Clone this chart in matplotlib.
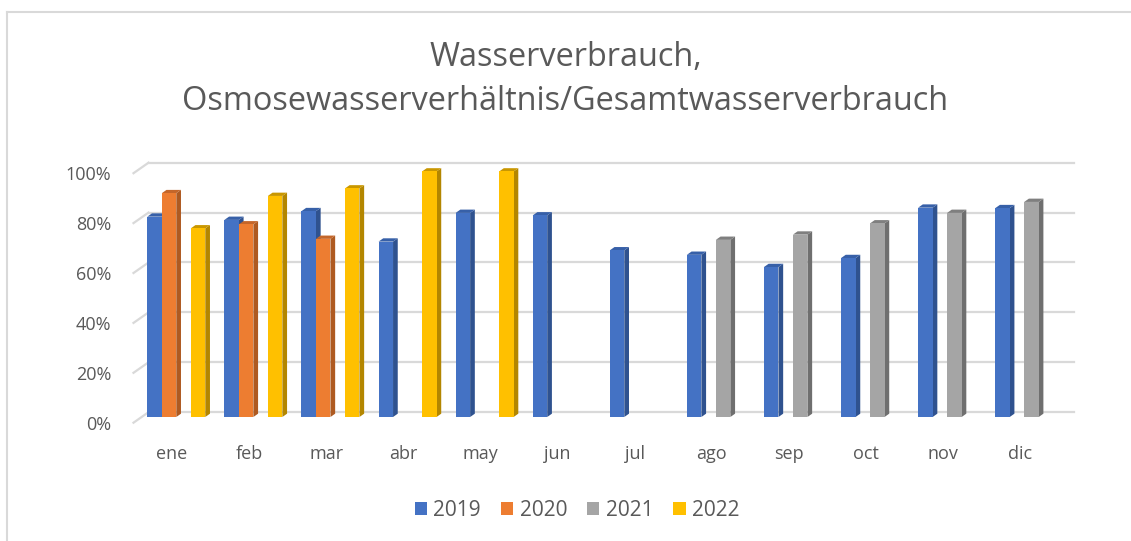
import matplotlib.pyplot as plt
from matplotlib.patches import Polygon, Rectangle
from matplotlib.lines import Line2D

plt.rcParams['font.family'] = ['Open Sans', 'DejaVu Sans']

# data (share of osmosis water, None = no bar)
months = ['ene', 'feb', 'mar', 'abr', 'may', 'jun', 'jul', 'ago', 'sep', 'oct', 'nov', 'dic']
years = ['2019', '2020', '2021', '2022']
v2019 = [0.803, 0.790, 0.825, 0.703, 0.818, 0.808, 0.668, 0.650, 0.601, 0.637, 0.839, 0.837]
v2020 = [0.897, 0.772, 0.714, None, None, None, None, None, None, None, None, None]
v2021 = [None, None, None, None, None, None, None, 0.710, 0.731, 0.776, 0.818, 0.862]
v2022 = [0.756, 0.886, 0.916, 0.984, 0.984, None, None, None, None, None, None, None]
series = [v2019, v2020, v2021, v2022]
front = ['#4472C4', '#ED7D31', '#A5A5A5', '#FFC000']
side = ['#2F528F', '#AE5A21', '#6F6F6F', '#B38600']
top = ['#3760A8', '#C4662A', '#7F7F7F', '#C99700']

W, H = 1131, 541
fig = plt.figure(figsize=(W / 100, H / 100), dpi=100)
ax = fig.add_axes([133.5 / W, (H - 422.7) / H, 925 / W, 249.5 / H])
ax.set_xlim(-0.5, 11.5)
ax.set_ylim(0, 1)

# 3d offsets in data units
bx, by = 15 / 77.08, 10.5 / 249.5   # back wall
dx, dy = 4.7 / 77.08, 3.3 / 249.5    # bar depth
base = 5.7 / 249.5
bw = 14.5 / 77.08
offs = [-0.227, -0.039, 0.149, 0.337]

grid = '#D9D9D9'
ticks = [0, 0.2, 0.4, 0.6, 0.8, 1.0]
for t in ticks:
    ax.plot([-0.5, -0.5 + bx], [t, t + by], color=grid, lw=1.6, clip_on=False, zorder=1)
    ax.plot([-0.5 + bx, 11.5 + bx], [t + by, t + by], color=grid, lw=1.6, clip_on=False, zorder=1)

z = 3
for i in range(len(months)):
    for k, vals in enumerate(series):
        v = vals[i]
        if v is None:
            continue
        x0 = i + offs[k] - bw / 2
        x1 = x0 + bw
        y1 = base + v
        ax.add_patch(Polygon([(x1, base), (x1 + dx, base + dy), (x1 + dx, y1 + dy), (x1, y1)],
                             closed=True, fc=side[k], ec='none', zorder=z, clip_on=False))
        ax.add_patch(Polygon([(x0, y1), (x0 + dx, y1 + dy), (x1 + dx, y1 + dy), (x1, y1)],
                             closed=True, fc=top[k], ec='none', zorder=z, clip_on=False))
        ax.bar(x0, v, width=bw, bottom=base, align='edge', color=front[k], zorder=z + 0.5, clip_on=False)
        z += 1

for s in ax.spines.values():
    s.set_visible(False)
ax.set_yticks(ticks)
ax.set_yticklabels([f'{int(t * 100)}%' for t in ticks])
ax.set_xticks(range(len(months)))
ax.set_xticklabels(months)
ax.tick_params(axis='y', length=0, pad=16, labelsize=13, labelcolor='#595959')
ax.tick_params(axis='x', length=0, pad=16, labelsize=13, labelcolor='#595959')

fig.text(0.5, 1 - 58 / H, 'Wasserverbrauch,', ha='center', va='center',
         fontsize=23.4, color='#595959')
fig.text(0.5, 1 - 101 / H, 'Osmosewasserverhältnis/Gesamtwasserverbrauch', ha='center', va='center',
         fontsize=23.4, color='#595959')

handles = [Rectangle((0, 0), 1, 1, fc=c, ec='none') for c in front]
fig.legend(handles, years, loc='center', bbox_to_anchor=(577 / W, 1 - 510 / H), ncol=4, frameon=False,
           handlelength=0.6, handleheight=0.6, handletextpad=0.3, columnspacing=0.95,
           fontsize=15, labelcolor='#595959')

# chart border (top and left edges visible)
fig.add_artist(Line2D([7 / W, 7 / W], [0, 1 - 11.5 / H], color=grid, lw=1.5))
fig.add_artist(Line2D([7 / W, 1], [1 - 11.5 / H, 1 - 11.5 / H], color=grid, lw=1.5))

fig.savefig('out.png', dpi=100, facecolor='white')
